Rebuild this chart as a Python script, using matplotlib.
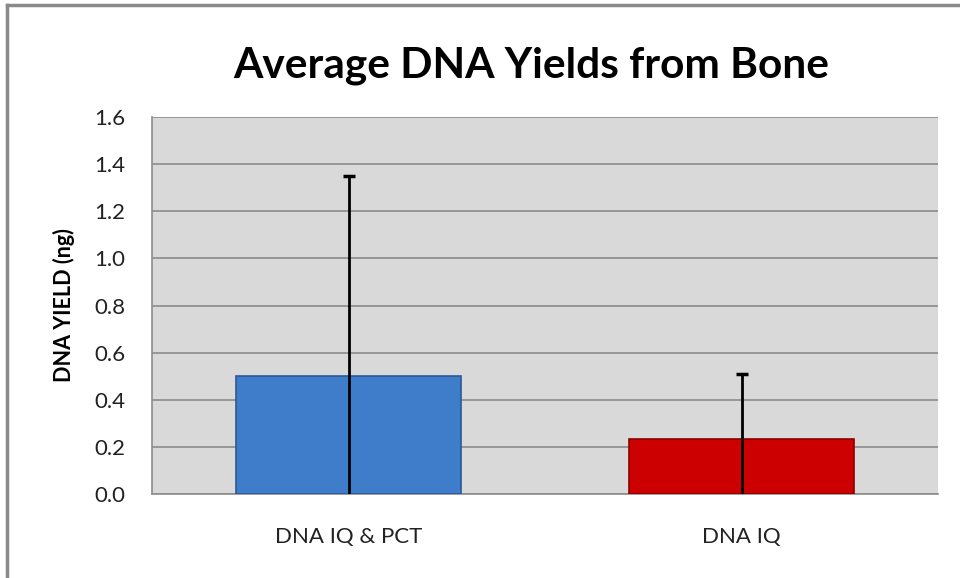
import matplotlib
matplotlib.use("Agg")
import matplotlib.pyplot as plt
from matplotlib.lines import Line2D

categories = ["DNA IQ & PCT", "DNA IQ"]
values = [0.50, 0.233]
errors = [0.85, 0.275]
bar_colors = ["#3F7DCB", "#CC0000"]
edge_colors = ["#2A5A96", "#8E0000"]
yticks = [0.0, 0.2, 0.4, 0.6, 0.8, 1.0, 1.2, 1.4, 1.6]

plt.rcParams['font.family'] = ['Lato', 'DejaVu Sans']

W, H = 960, 578
fig = plt.figure(figsize=(W/100, H/100), dpi=100)
ax = fig.add_axes([152/W, 1-494/H, (938-152)/W, (494-117)/H])
ax.set_facecolor("#D9D9D9")

x = list(range(len(categories)))
ax.bar(x, values, width=0.57, color=bar_colors, edgecolor=edge_colors, linewidth=1.2, zorder=3)
ax.errorbar(x, values, yerr=errors, fmt='none', ecolor='black', elinewidth=2,
            capsize=4.5, capthick=2.5, zorder=4)

ax.set_xlim(-0.5, 1.5)
ax.set_ylim(0, 1.6)
ax.set_yticks(yticks)
ax.set_yticklabels([f"{v:.1f}" for v in yticks], fontsize=16, color="#222222")
ax.set_xticks(x)
ax.set_xticklabels(categories, fontsize=16, color="#222222")
ax.tick_params(axis='y', length=0, pad=19)
ax.tick_params(axis='x', length=0, pad=24)
ax.yaxis.grid(True, color="#8C8C8C", linewidth=1.2, zorder=1)
ax.set_axisbelow(True)
for s in ['top', 'right']:
    ax.spines[s].set_visible(False)
ax.spines['left'].set_color("#8C8C8C")
ax.spines['bottom'].set_color("#8C8C8C")
ax.spines['left'].set_linewidth(1.2)
ax.spines['bottom'].set_linewidth(1.2)

ax.set_ylabel("DNA YIELD (ng)", fontsize=15.5, fontweight='bold', labelpad=14)

fig.text(531/W, 1-66/H, "Average DNA Yields from Bone", ha='center', va='center',
         fontsize=30.5, fontweight='bold')

# outer border (top and left)
fig.add_artist(Line2D([7/W, 7/W], [0, 1-5/H], transform=fig.transFigure, color="#8A8A8A", linewidth=2.5))
fig.add_artist(Line2D([7/W, 1], [1-5/H, 1-5/H], transform=fig.transFigure, color="#8A8A8A", linewidth=2.5))

fig.savefig("out.png", dpi=100)
